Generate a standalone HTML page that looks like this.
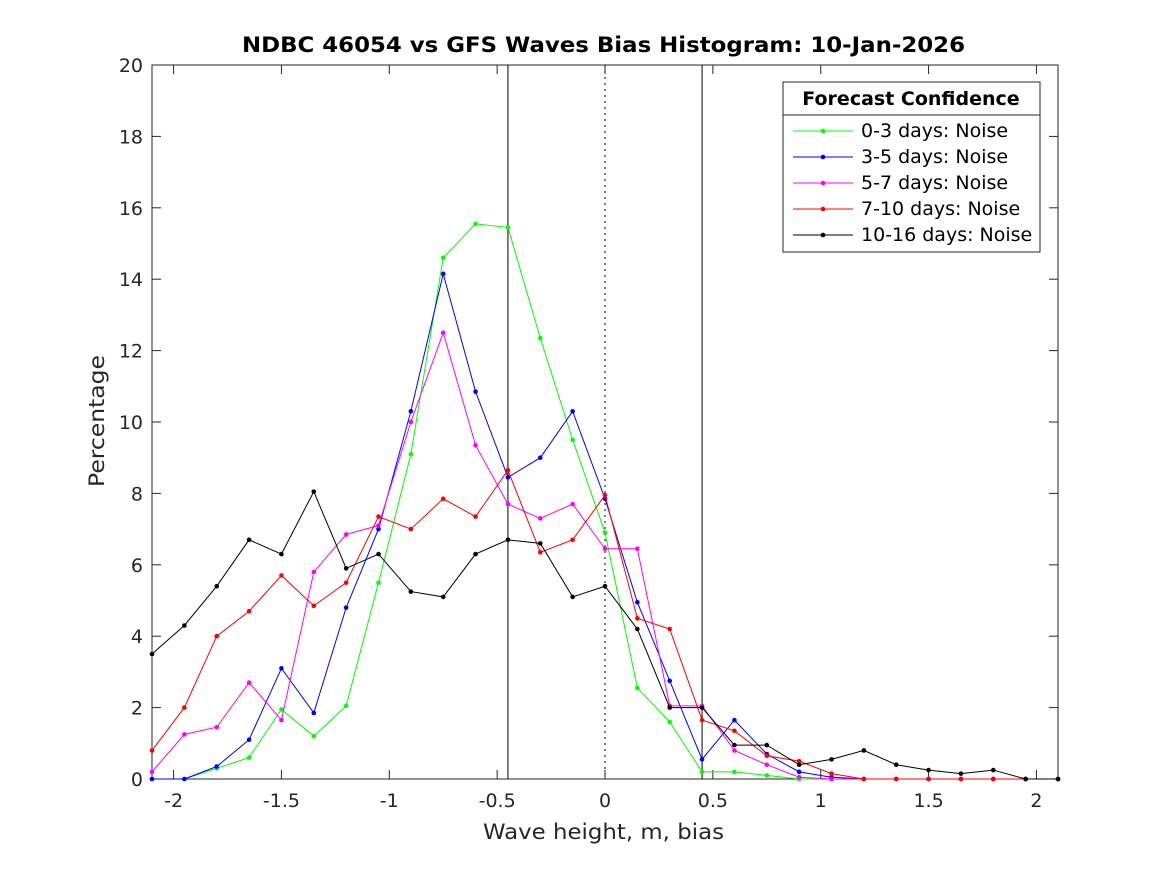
<!DOCTYPE html>
<html><head><meta charset="utf-8"><style>
body{margin:0;background:#fff;font-family:"DejaVu Sans",sans-serif}
svg text{font-family:"DejaVu Sans",sans-serif}
</style></head><body>
<svg id="c" width="1167" height="875"></svg>
<script>
const xVals=[-2.1,-1.95,-1.8,-1.65,-1.5,-1.35,-1.2,-1.05,-0.9,-0.75,-0.6,-0.45,-0.3,-0.15,0,0.15,0.3,0.45,0.6,0.75,0.9,1.05,1.2,1.35,1.5,1.65,1.8,1.95,2.1];
const green=[0,0,0.3,0.6,1.95,1.2,2.05,5.5,9.1,14.6,15.55,15.45,12.35,9.5,6.9,2.55,1.6,0.2,0.2,0.1,0,0,0,0,0,0,0,0,0];
const blue=[0,0,0.35,1.1,3.1,1.85,4.8,7.0,10.3,14.15,10.85,8.45,9.0,10.3,7.85,4.95,2.75,0.55,1.65,0.7,0.2,0.05,0,0,0,0,0,0,0];
const magenta=[0.2,1.25,1.45,2.7,1.65,5.8,6.85,7.1,10.0,12.5,9.35,7.7,7.3,7.7,6.45,6.45,2.05,2.05,0.8,0.4,0.05,0,0,0,0,0,0,0,0];
const red=[0.8,2.0,4.0,4.7,5.7,4.85,5.5,7.35,7.0,7.85,7.35,8.65,6.35,6.7,7.95,4.5,4.2,1.65,1.35,0.65,0.5,0.15,0,0,0,0,0,0,0];
const black=[3.5,4.3,5.4,6.7,6.3,8.05,5.9,6.3,5.25,5.1,6.3,6.7,6.6,5.1,5.4,4.2,2.0,2.0,0.95,0.95,0.4,0.55,0.8,0.4,0.25,0.15,0.25,0,0];
const xTicks=[-2,-1.5,-1,-0.5,0,0.5,1,1.5,2];
const xTickLabels=["-2","-1.5","-1","-0.5","0","0.5","1","1.5","2"];
const yTicks=[0,2,4,6,8,10,12,14,16,18,20];
const seriesNames=["0-3 days: Noise","3-5 days: Noise","5-7 days: Noise","7-10 days: Noise","10-16 days: Noise"];

const L=152,R=1058,T=65,B=779;
const sx=v=>L+(v+2.1)/4.2*(R-L);
const sy=v=>B-v/20*(B-T);
const svg=document.getElementById('c');
const NS='http://www.w3.org/2000/svg';
function mk(t,a,p){const e=document.createElementNS(NS,t);for(const k in a)e.setAttribute(k,a[k]);(p||svg).appendChild(e);return e;}

const box=mk('rect',{x:L,y:T,width:R-L,height:B-T,fill:'#fff',stroke:'#262626'});



xTicks.forEach((v,i)=>{
  mk('line',{x1:sx(v),x2:sx(v),y1:B,y2:B-9,stroke:'#262626'});
  mk('line',{x1:sx(v),x2:sx(v),y1:T,y2:T+9,stroke:'#262626'});
  const t=mk('text',{x:sx(v),y:B+28,'text-anchor':'middle','font-size':19,fill:'#262626'});
  t.textContent=xTickLabels[i];
  
  
});
yTicks.forEach(v=>{
  mk('line',{x1:L,x2:L+9,y1:sy(v),y2:sy(v),stroke:'#262626'});
  mk('line',{x1:R,x2:R-9,y1:sy(v),y2:sy(v),stroke:'#262626'});
  const t=mk('text',{x:L-9,y:sy(v)+7,'text-anchor':'end','font-size':19,fill:'#262626'});
  t.textContent=v;
  
  
});

[-0.45,0.45].forEach(v=>{
  const l=mk('line',{x1:sx(v),x2:sx(v),y1:T,y2:B,stroke:'#000'});
  
  
});
const z=mk('line',{x1:sx(0),x2:sx(0),y1:T,y2:B,stroke:'#000','stroke-dasharray':'2,4'});



const series=[green,blue,magenta,red,black];
const colors=['#00ff00','#0000ff','#ff00ff','#ff0000','#000000'];
series.forEach((s,k)=>{
  const g=mk('g',{});
  
  
  mk('polyline',{points:s.map((v,i)=>sx(xVals[i])+','+sy(v)).join(' '),fill:'none',stroke:colors[k],'stroke-width':1},g);
  s.forEach((v,i)=>{
    const c=mk('circle',{cx:sx(xVals[i]),cy:sy(v),r:2.3,fill:colors[k]},g);
    
    
  });
});

const title=mk('text',{x:242,y:52,'font-size':21,'font-weight':'bold',fill:'#000',textLength:723,lengthAdjust:'spacingAndGlyphs'});
title.textContent='NDBC 46054 vs GFS Waves Bias Histogram: 10-Jan-2026';


const xl=mk('text',{x:483,y:839,'font-size':21,fill:'#262626',textLength:241,lengthAdjust:'spacingAndGlyphs'});
xl.textContent='Wave height, m, bias';


const yl=mk('text',{x:-66,y:0,'font-size':21,fill:'#262626',textLength:132,lengthAdjust:'spacingAndGlyphs',transform:'translate(104,421) rotate(-90)'});
yl.textContent='Percentage';



const lg=mk('g',{});


mk('rect',{x:783,y:82,width:257,height:170,fill:'#fff',stroke:'#262626'},lg);
mk('line',{x1:783,x2:1040,y1:115,y2:115,stroke:'#262626'},lg);
const lt=mk('text',{x:911,y:105,'text-anchor':'middle','font-size':19,'font-weight':'bold',fill:'#000'},lg);
lt.textContent='Forecast Confidence';


seriesNames.forEach((n,k)=>{
  const y=131+k*26;
  const e=mk('g',{},lg);
  
  
  mk('line',{x1:793,x2:853,y1:y,y2:y,stroke:colors[k]},e);
  mk('circle',{cx:823,cy:y,r:2.3,fill:colors[k]},e);
  const t=mk('text',{x:861,y:y+6,'font-size':19,fill:'#000'},e);
  t.textContent=n;
});
</script>
</body></html>
